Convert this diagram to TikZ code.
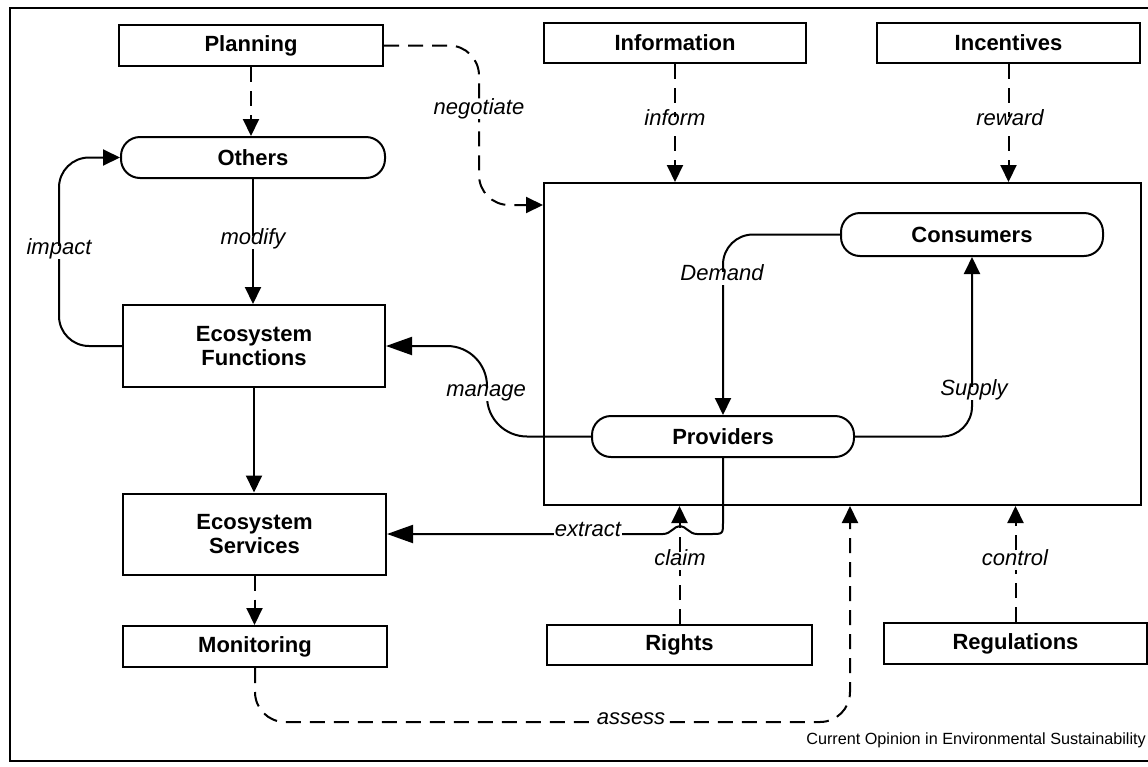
\documentclass[tikz,border=0pt]{standalone}
\usepackage{fontspec}
\setmainfont{Liberation Sans}
\usetikzlibrary{arrows.meta}
\newcommand\boxfnt{\fontsize{22}{24}\selectfont\bfseries}
\newcommand\lblfnt{\fontsize{22}{24}\selectfont\itshape}
\newcommand\ftfnt{\fontsize{16.2}{18}\selectfont}
\tikzset{
  box/.style={draw, line width=2pt, inner sep=0pt, minimum width=263pt, minimum height=41pt, font=\boxfnt, align=center},
  pill/.style={box, rounded corners=19pt},
  lbl/.style={fill=white, inner sep=1.5pt, text height=0.75em, text depth=0.25em, font=\lblfnt},
  conn/.style={line width=2pt, -{Triangle[length=17pt,width=16pt]}},
  dconn/.style={conn, dash pattern=on 15pt off 9pt},
  bigconn/.style={line width=2pt, -{Triangle[length=26pt,width=18pt]}},
}
\begin{document}
\begin{tikzpicture}[x=1pt,y=-1pt]
\useasboundingbox (0,0) rectangle (1148,766);
% frame
\draw[line width=1.6pt] (1148,8) -- (10,8) -- (10,761) -- (1148,761);

% nodes
\node[box, minimum width=264pt] (plan) at (251,45.5) {Planning};
\node[box, minimum width=262pt, minimum height=40pt] (info) at (675,43) {Information};
\node[box, minimum width=263pt, minimum height=40pt] (incent) at (1008.5,43) {Incentives};
\node[pill, minimum width=264pt] (others) at (253,157.5) {Others};
\node[box, minimum width=262pt, minimum height=82pt] (ef) at (254,346) {Ecosystem\\Functions};
\node[box, minimum width=263pt, minimum height=81pt] (es) at (254.5,534) {Ecosystem\\Services};
\node[box, minimum width=264pt] (mon) at (255,646.5) {Monitoring};
\node[box, minimum width=265pt, minimum height=40pt] (rights) at (679.5,645) {Rights};
\node[box, minimum width=263pt] (regs) at (1015.5,643.5) {Regulations};
\node[draw, line width=2pt, minimum width=597pt, minimum height=322pt, inner sep=0pt] (market) at (842.5,344) {};
\node[pill, minimum width=262pt, minimum height=43pt] (cons) at (972,234.5) {Consumers};
\node[pill, minimum width=262pt] (prov) at (723,436.5) {Providers};

% coordinates
\coordinate (negx) at (479,205);
\coordinate (impx) at (59,0);
\coordinate (manx) at (487,0);
\coordinate (assc) at (850,722);

% connectors
\draw[dconn] (plan.south) -- (plan.south |- others.north);
\draw[dconn, rounded corners=30pt] (plan.east) -| (negx) -- (negx -| market.west);
\draw[dconn] (info.south) -- (info.south |- market.north);
\draw[dconn] (incent.south) -- (incent.south |- market.north);
\draw[conn] (others.south) -- (others.south |- ef.north);
\draw[conn, rounded corners=30pt] (ef.west) -- (ef.west -| impx) -- (others.west -| impx) -- (others.west);
\draw[conn] (ef.south) -- (ef.south |- es.north);
\draw[dconn] (es.south) -- (es.south |- mon.north);
\draw[bigconn, rounded corners=40pt] (prov.west) -- (prov.west -| manx) -- (ef.east -| manx) -- (ef.east);
\draw[conn, rounded corners=30pt] (cons.west) -| (prov.north);
\draw[conn, rounded corners=30pt] (prov.east) -| (cons.south);
\draw[dconn] (rights.north) -- (rights.north |- market.south);
\draw[dconn] (regs.north) -- (regs.north |- market.south);
\draw[bigconn] (prov.south) -- (723,522) .. controls (723,534) .. (711,534) -- (697,534)
   .. controls (689,534) and (686,526) .. (680,526) .. controls (674,526) and (671,534) .. (663,534) -- (es.east);
\draw[dconn, rounded corners=30pt] (mon.south) |- (assc) -- (assc |- market.south);

% labels
\node[lbl] (lneg) at (479,112) {negotiate};
\node[lbl] (linf) at (675,123) {inform};
\node[lbl] (lrew) at (1010,123) {reward};
\node[lbl] (lmod) at (253,242) {modify};
\node[lbl] (limp) at (59,252) {impact};
\node[lbl] (ldem) at (722,278) {Demand};
\node[lbl] (lman) at (486,394) {manage};
\node[lbl] (lsup) at (974,393) {Supply};
\node[lbl, inner sep=1pt] (lext) at (588,534) {extract};
\node[lbl] (lcla) at (680,563) {claim};
\node[lbl] (lcon) at (1015,563) {control};
\node[lbl, inner sep=1pt] (lass) at (631,722) {assess};

\node[anchor=east, inner sep=0pt, font=\ftfnt] (foot) at (1146,740) {Current Opinion in Environmental Sustainability};
\end{tikzpicture}
\end{document}
